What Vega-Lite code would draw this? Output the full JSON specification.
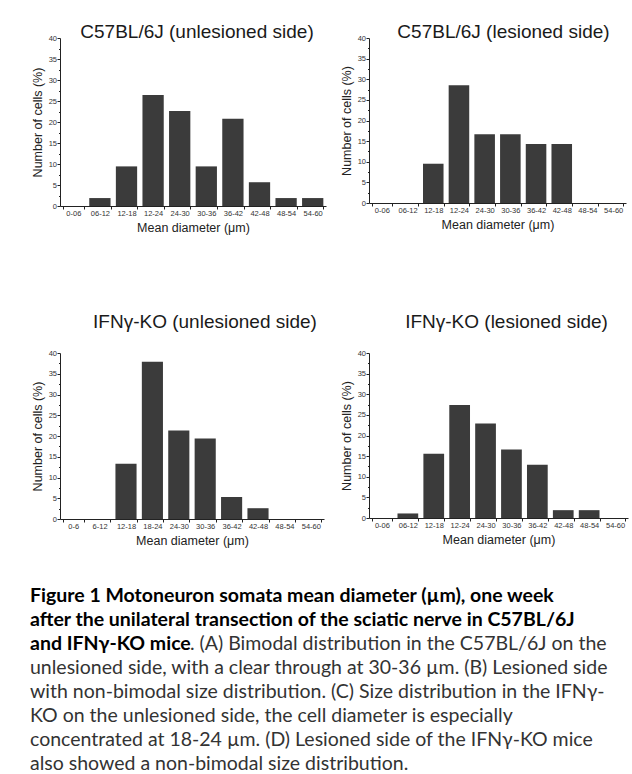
{
  "$schema": "https://vega.github.io/schema/vega-lite/v6.json",
  "background": "white",
  "padding": {"left": 30, "top": 23, "right": 0, "bottom": 0},
  "datasets": {
    "a": [
      {"bin": "0-06", "pct": 0}, {"bin": "06-12", "pct": 1.89}, {"bin": "12-18", "pct": 9.43},
      {"bin": "12-24", "pct": 26.42}, {"bin": "24-30", "pct": 22.64}, {"bin": "30-36", "pct": 9.43},
      {"bin": "36-42", "pct": 20.75}, {"bin": "42-48", "pct": 5.66}, {"bin": "48-54", "pct": 1.89},
      {"bin": "54-60", "pct": 1.89}
    ],
    "b": [
      {"bin": "0-06", "pct": 0}, {"bin": "06-12", "pct": 0}, {"bin": "12-18", "pct": 9.52},
      {"bin": "12-24", "pct": 28.57}, {"bin": "24-30", "pct": 16.67}, {"bin": "30-36", "pct": 16.67},
      {"bin": "36-42", "pct": 14.29}, {"bin": "42-48", "pct": 14.29}, {"bin": "48-54", "pct": 0},
      {"bin": "54-60", "pct": 0}
    ],
    "c": [
      {"bin": "0-6", "pct": 0}, {"bin": "6-12", "pct": 0}, {"bin": "12-18", "pct": 13.3},
      {"bin": "18-24", "pct": 37.9}, {"bin": "24-30", "pct": 21.3}, {"bin": "30-36", "pct": 19.4},
      {"bin": "36-42", "pct": 5.3}, {"bin": "42-48", "pct": 2.6}, {"bin": "48-54", "pct": 0},
      {"bin": "54-60", "pct": 0}
    ],
    "d": [
      {"bin": "0-06", "pct": 0}, {"bin": "06-12", "pct": 1.1}, {"bin": "12-18", "pct": 15.6},
      {"bin": "12-24", "pct": 27.4}, {"bin": "24-30", "pct": 22.9}, {"bin": "30-36", "pct": 16.6},
      {"bin": "36-42", "pct": 12.9}, {"bin": "42-48", "pct": 1.9}, {"bin": "48-54", "pct": 1.9},
      {"bin": "54-60", "pct": 0}
    ],
    "caption": [
      {"line": 1, "part": "bold", "text": "Figure 1 Motoneuron somata mean diameter (µm), one week"},
      {"line": 2, "part": "bold", "text": "after the unilateral transection of the sciatic nerve in C57BL/6J"},
      {"line": 3, "part": "bold", "text": "and IFNγ-KO mice"},
      {"line": 3, "part": "tail", "text": ". (A) Bimodal distribution in the C57BL/6J on the"},
      {"line": 4, "part": "normal", "text": "unlesioned side, with a clear through at 30-36 µm. (B) Lesioned side"},
      {"line": 5, "part": "normal", "text": "with non-bimodal size distribution. (C) Size distribution in the IFNγ-"},
      {"line": 6, "part": "normal", "text": "KO on the unlesioned side, the cell diameter is especially"},
      {"line": 7, "part": "normal", "text": "concentrated at 18-24 µm. (D) Lesioned side of the IFNγ-KO mice"},
      {"line": 8, "part": "normal", "text": "also showed a non-bimodal size distribution."}
    ]
  },
  "vconcat": [
    {
      "vconcat": [
        {
          "hconcat": [
            {
              "data": {"name": "a"},
              "width": 266, "height": 168,
              "title": {"text": "C57BL/6J (unlesioned side)", "offset": -8, "dx": 4},
              "mark": {"type": "bar", "color": "#3b3b3b"},
              "encoding": {
                "x": {"field": "bin", "type": "nominal", "sort": null, "scale": {"paddingInner": 0.2, "paddingOuter": 0.1}, "title": "Mean diameter (μm)"},
                "y": {"field": "pct", "type": "quantitative", "scale": {"domain": [0, 40]}, "title": "Number of cells (%)",
                  "axis": {"values": [0, 2.5, 5, 7.5, 10, 12.5, 15, 17.5, 20, 22.5, 25, 27.5, 30, 32.5, 35, 37.5, 40], "labelExpr": "datum.value % 5 === 0 ? datum.label : ''", "labelOverlap": false, "tickSize": {"condition": {"test": "datum.value % 5 === 0", "value": 3}, "value": 1.5}}}
              }
            },
            {
              "data": {"name": "b"},
              "width": 257, "height": 165,
              "title": {"text": "C57BL/6J (lesioned side)", "offset": -8, "dx": 6},
              "mark": {"type": "bar", "color": "#3b3b3b"},
              "encoding": {
                "x": {"field": "bin", "type": "nominal", "sort": null, "scale": {"paddingInner": 0.2, "paddingOuter": 0.1}, "title": "Mean diameter (μm)"},
                "y": {"field": "pct", "type": "quantitative", "scale": {"domain": [0, 40]}, "title": "Number of cells (%)",
                  "axis": {"values": [0, 2.5, 5, 7.5, 10, 12.5, 15, 17.5, 20, 22.5, 25, 27.5, 30, 32.5, 35, 37.5, 40], "labelExpr": "datum.value % 5 === 0 ? datum.label : ''", "labelOverlap": false, "tickSize": {"condition": {"test": "datum.value % 5 === 0", "value": 3}, "value": 1.5}}}
              }
            }
          ],
          "spacing": 14
        },
        {
          "hconcat": [
            {
              "data": {"name": "c"},
              "width": 264, "height": 166,
              "title": {"text": "IFNγ-KO (unlesioned side)", "offset": 17, "dx": 13},
              "mark": {"type": "bar", "color": "#3b3b3b"},
              "encoding": {
                "x": {"field": "bin", "type": "nominal", "sort": null, "scale": {"paddingInner": 0.2, "paddingOuter": 0.1}, "title": "Mean diameter (μm)"},
                "y": {"field": "pct", "type": "quantitative", "scale": {"domain": [0, 40]}, "title": "Number of cells (%)",
                  "axis": {"values": [0, 2.5, 5, 7.5, 10, 12.5, 15, 17.5, 20, 22.5, 25, 27.5, 30, 32.5, 35, 37.5, 40], "labelExpr": "datum.value % 5 === 0 ? datum.label : ''", "labelOverlap": false, "tickSize": {"condition": {"test": "datum.value % 5 === 0", "value": 3}, "value": 1.5}}}
              }
            },
            {
              "data": {"name": "d"},
              "width": 259, "height": 165,
              "title": {"text": "IFNγ-KO (lesioned side)", "offset": 17, "dx": 8},
              "mark": {"type": "bar", "color": "#3b3b3b"},
              "encoding": {
                "x": {"field": "bin", "type": "nominal", "sort": null, "scale": {"paddingInner": 0.2, "paddingOuter": 0.1}, "title": "Mean diameter (μm)"},
                "y": {"field": "pct", "type": "quantitative", "scale": {"domain": [0, 40]}, "title": "Number of cells (%)",
                  "axis": {"values": [0, 2.5, 5, 7.5, 10, 12.5, 15, 17.5, 20, 22.5, 25, 27.5, 30, 32.5, 35, 37.5, 40], "labelExpr": "datum.value % 5 === 0 ? datum.label : ''", "labelOverlap": false, "tickSize": {"condition": {"test": "datum.value % 5 === 0", "value": 3}, "value": 1.5}}}
              }
            }
          ],
          "spacing": 16
        }
      ],
      "spacing": 79
    },
    {
      "data": {"name": "caption"},
      "width": 575,
      "height": {"step": 24.0},
      "encoding": {
        "y": {"field": "line", "type": "ordinal", "axis": null},
        "x": {"value": 0},
        "text": {"field": "text"}
      },
      "layer": [
        {
          "transform": [{"filter": {"field": "part", "equal": "bold"}}],
          "mark": {"type": "text", "align": "left", "baseline": "middle", "font": "Lato", "fontWeight": "bold", "fontSize": 19.5, "color": "#000", "dx": -30}
        },
        {
          "transform": [{"filter": {"field": "part", "equal": "normal"}}],
          "mark": {"type": "text", "align": "left", "baseline": "middle", "font": "Lato", "fontSize": 19.5, "color": "#333", "dx": -30}
        },
        {
          "transform": [{"filter": {"field": "part", "equal": "tail"}}],
          "mark": {"type": "text", "align": "left", "baseline": "middle", "font": "Lato", "fontSize": 19.5, "color": "#333", "dx": 130}
        }
      ]
    }
  ],
  "spacing": 37,
  "config": {
    "view": {"stroke": null},
    "font": "Liberation Sans",
    "title": {"font": "Liberation Sans", "fontSize": 19, "fontWeight": "normal", "color": "#1a1a1a", "anchor": "middle"},
    "axis": {
      "grid": false,
      "domainColor": "#222",
      "tickColor": "#222",
      "labelColor": "#333",
      "labelFont": "Liberation Sans",
      "labelFontSize": 7.5,
      "titleFont": "Liberation Sans",
      "titleFontSize": 12.5,
      "titleFontWeight": "normal",
      "titleColor": "#222",
      "tickSize": 3,
      "labelPadding": 0.5,
      "titlePadding": 4
    },
    "axisX": {"labelAngle": 0, "tickBand": "extent", "labelPadding": 0, "titlePadding": 5}
  }
}
